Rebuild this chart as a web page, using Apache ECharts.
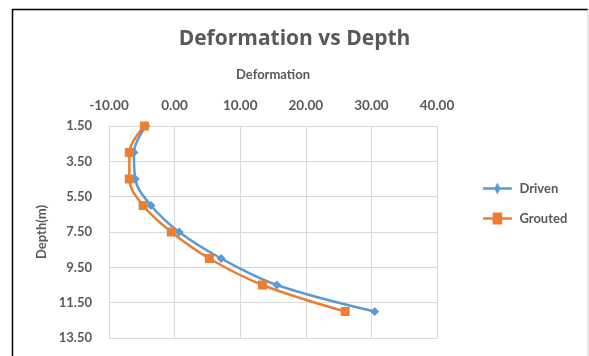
<!DOCTYPE html>
<html>
<head>
<meta charset="utf-8">
<script src="https://cdn.jsdelivr.net/npm/echarts@6/dist/echarts.min.js"></script>
<style>
  html, body { margin: 0; padding: 0; background: #fff; }
  #container { width: 589px; height: 356px; }
</style>
</head>
<body>
<div id="container"></div>
<script>
var dom = document.getElementById('container');
var myChart = echarts.init(dom);

// depth (m) for each reading
let depth = [1.5, 3.0, 4.5, 6.0, 7.5, 9.0, 10.5, 12.0]
// deformation values
let driven = [-4.4, -6.2, -6.0, -3.6, 0.7, 7.1, 15.6, 30.5]
let grouted = [-4.6, -6.9, -6.9, -4.8, -0.5, 5.3, 13.4, 26.0]
let seriesNames = ['Driven', 'Grouted']

let gray = '#595959'
let font = 'Lato, "Open Sans", sans-serif'

function pairs(xs) {
    return xs.map(function (v, i) { return [v, depth[i]] })
}

option = {
    backgroundColor: '#fff',
    animation: false,
    title: {
        text: 'Deformation vs Depth',
        left: 'center',
        top: 24,
        textStyle: {
            color: gray,
            fontFamily: '"Open Sans", sans-serif',
            fontWeight: 'bold',
            fontSize: 21
        }
    },
    legend: {
        data: [
            { name: 'Driven', icon: 'path://M0,4 L10,4 L12,0 L14,4 L24,4 L24,6 L14,6 L12,10 L10,6 L0,6 Z' },
            { name: 'Grouted', icon: 'path://M0,4 L8,4 L8,0 L16,0 L16,4 L24,4 L24,6 L16,6 L16,10 L8,10 L8,6 L0,6 Z' }
        ],
        orient: 'vertical',
        left: 478,
        top: 177,
        itemWidth: 34,
        itemHeight: 12,
        itemGap: 17,
        textStyle: {
            color: gray,
            fontFamily: font,
            fontWeight: 'bold',
            fontSize: 13
        }
    },
    grid: {
        left: 109,
        right: 152,
        top: 126,
        bottom: 18
    },
    graphic: [{
        type: 'polyline',
        shape: { points: [[12.5, 356], [12.5, 9.5], [588, 9.5]] },
        style: { stroke: '#000', lineWidth: 1.5, fill: null }
    }, {
        type: 'line',
        shape: { x1: 588, y1: 9, x2: 588, y2: 356 },
        style: { stroke: '#d0d0d0', lineWidth: 1 }
    }],
    xAxis: {
        type: 'value',
        position: 'top',
        min: -10,
        max: 40,
        interval: 10,
        name: 'Deformation',
        nameLocation: 'middle',
        nameGap: 45,
        nameTextStyle: {
            color: gray,
            fontFamily: font,
            fontWeight: 'bold',
            fontSize: 13
        },
        axisLine: { show: false },
        axisTick: { show: false },
        axisLabel: {
            color: gray,
            fontFamily: font,
            fontWeight: 'bold',
            fontSize: 13.5,
            margin: 13,
            formatter: function (v) { return v.toFixed(2) }
        },
        splitLine: {
            show: true,
            lineStyle: { color: '#d9d9d9', width: 1 }
        }
    },
    yAxis: {
        type: 'value',
        inverse: true,
        min: 1.5,
        max: 13.5,
        interval: 2,
        name: 'Depth(m)',
        nameLocation: 'middle',
        nameRotate: 90,
        nameGap: 60,
        nameTextStyle: {
            color: gray,
            fontFamily: font,
            fontWeight: 'bold',
            fontSize: 13
        },
        axisLine: { show: false },
        axisTick: { show: false },
        axisLabel: {
            color: gray,
            fontFamily: font,
            fontWeight: 'bold',
            fontSize: 13,
            margin: 17,
            formatter: function (v) { return v.toFixed(2) }
        },
        splitLine: {
            show: true,
            lineStyle: { color: '#d9d9d9', width: 1 }
        }
    },
    series: [{
        name: seriesNames[0],
        type: 'line',
        smooth: 0.35,
        symbol: 'diamond',
        symbolSize: 9,
        itemStyle: { color: '#5b9bd5' },
        lineStyle: { width: 2.5, color: '#5b9bd5' },
        data: pairs(driven)
    }, {
        name: seriesNames[1],
        type: 'line',
        smooth: 0.35,
        symbol: 'rect',
        symbolSize: 9,
        itemStyle: { color: '#ed7d31' },
        lineStyle: { width: 2.5, color: '#ed7d31' },
        data: pairs(grouted)
    }]
};
myChart.setOption(option);

window.addEventListener("resize", function () {
    myChart.resize();
});
</script>
</body>
</html>
